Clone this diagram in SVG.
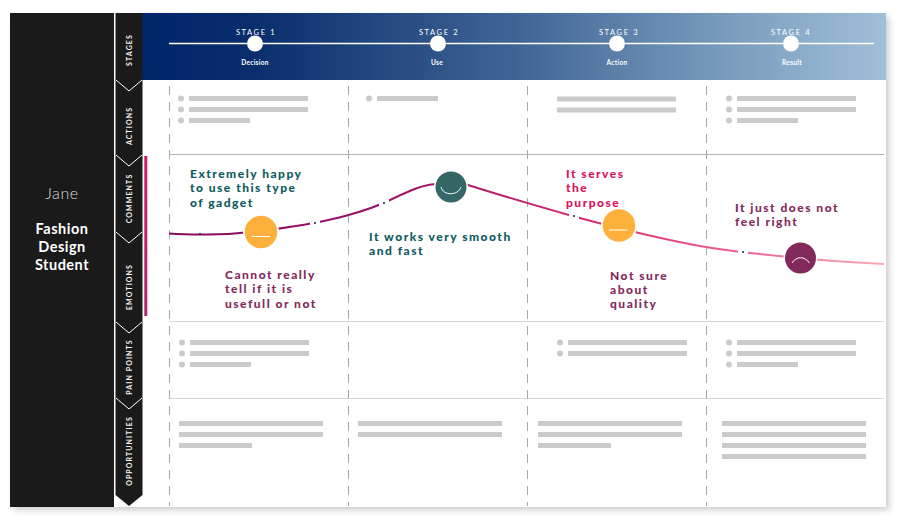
<svg xmlns="http://www.w3.org/2000/svg" width="900" height="520" viewBox="0 0 900 520">
<style>
.g{fill:#cbcbcb}
.hl{stroke-width:1;fill:none}
.lab{font-family:Lato,"Open Sans",sans-serif;font-weight:700;font-size:7px;letter-spacing:1.1px;fill:#f2f2f2;text-anchor:middle}
.st{font-family:Lato,sans-serif;font-weight:400;font-size:7.500px;letter-spacing:1.600px;fill:#fff;text-anchor:middle}
.sub{font-family:Lato,sans-serif;font-weight:700;font-size:6.500px;fill:#fff;text-anchor:middle;letter-spacing:.3px}
.c{font-family:Lato,sans-serif;font-weight:900;font-size:12px;letter-spacing:1.500px}
.teal{fill:#0e5a5e}.plum{fill:#852a5c}.pink{fill:#dc1259}
.face{fill:none;stroke:#fff;stroke-width:1}
</style>
<defs>
<linearGradient id="hd" x1="0" x2="1" y1="0" y2="0"><stop offset="0" stop-color="#00256a"/><stop offset=".15" stop-color="#0a2d6c"/><stop offset=".5" stop-color="#3f6494"/><stop offset=".8" stop-color="#7c9fbf"/><stop offset="1" stop-color="#a0bfd8"/></linearGradient>
<linearGradient id="cv" gradientUnits="userSpaceOnUse" x1="169" x2="884" y1="0" y2="0"><stop offset="0" stop-color="#850a5c"/><stop offset=".35" stop-color="#a5146a"/><stop offset=".6" stop-color="#d63070"/><stop offset=".8" stop-color="#f0648f"/><stop offset="1" stop-color="#f5a9b5"/></linearGradient>
<linearGradient id="bar" x1="0" x2="0" y1="0" y2="1"><stop offset="0" stop-color="#d01a68"/><stop offset="1" stop-color="#b0246e"/></linearGradient>
<filter id="sh" x="-5%" y="-5%" width="110%" height="110%"><feGaussianBlur stdDeviation="3"/></filter>
</defs>
<rect width="900" height="520" fill="#fff"/>
<rect x="14" y="17" width="875" height="493" fill="#000" opacity=".2" filter="url(#sh)"/>
<rect x="10" y="13" width="876" height="494" fill="#fff"/>
<rect x="10" y="13" width="104" height="494" fill="#1a1a1a"/>
<rect x="142" y="13" width="744" height="67" fill="url(#hd)"/>

<g id="ribbon">
<path d="M115.500 13H142.500V495L129 506L115.500 495Z" fill="#1a1a1a"/>
<g fill="none" stroke="#fff" stroke-width="1">
<path d="M116 80L129 91L142 80"/>
<path d="M116 155L129 166L142 155"/>
<path d="M116 232L129 243L142 232"/>
<path d="M116 322L129 333L142 322"/>
<path d="M116 398L129 409L142 398"/>
</g>
<text class="lab" transform="translate(131.500,50) rotate(-90)">STAGES</text>
<text class="lab" transform="translate(131.500,126) rotate(-90)">ACTIONS</text>
<text class="lab" transform="translate(131.500,198.500) rotate(-90)">COMMENTS</text>
<text class="lab" transform="translate(131.500,287) rotate(-90)">EMOTIONS</text>
<text class="lab" transform="translate(131.500,367) rotate(-90)">PAIN POINTS</text>
<text class="lab" transform="translate(131.500,451) rotate(-90)">OPPORTUNITIES</text>
</g>
<rect x="144.300" y="156" width="3" height="160" fill="url(#bar)"/>

<g id="persona" text-anchor="middle" fill="#fff" font-family="Lato,sans-serif">
<text x="62" y="199" font-size="16" font-weight="300" letter-spacing=".6" fill="#dcdcdc">Jane</text>
<text x="62" y="234" font-size="14.500" font-weight="700" letter-spacing=".5">Fashion</text>
<text x="62" y="252" font-size="14.500" font-weight="700" letter-spacing=".5">Design</text>
<text x="62" y="270" font-size="14.500" font-weight="700" letter-spacing=".5">Student</text>
</g>

<g id="grid">
<path class="hl" stroke="#b4b4b4" d="M169 154.500H884"/>
<path class="hl" stroke="#d6d6d6" d="M169 321.500H884M169 398.500H884"/>
<path d="M169.500 86V506M348.500 86V506M527.500 86V506M706.500 86V506" fill="none" stroke="#a8a8a8" stroke-width="1" stroke-dasharray="9 7"/>
</g>

<g id="stages">
<path d="M169 43.500H874" stroke="#fff" stroke-width="1.500"/>
<g fill="#fff"><circle cx="255" cy="43.500" r="8"/><circle cx="438" cy="43.500" r="8"/><circle cx="617" cy="43.500" r="8"/><circle cx="791" cy="43.500" r="8"/></g>
<text class="st" x="256" y="34.500">STAGE 1</text><text class="sub" x="255" y="65">Decision</text>
<text class="st" x="439" y="35">STAGE 2</text><text class="sub" x="437" y="65">Use</text>
<text class="st" x="619" y="34.500">STAGE 3</text><text class="sub" x="617" y="65">Action</text>
<text class="st" x="791" y="34.500">STAGE 4</text><text class="sub" x="792" y="64.500">Result</text>
</g>

<g id="actions" class="g">
<circle cx="181" cy="98.500" r="3"/><circle cx="181" cy="109.500" r="3"/><circle cx="181" cy="120.500" r="3"/>
<rect x="189" y="96" width="119" height="5"/><rect x="189" y="107" width="119" height="5"/><rect x="189" y="118" width="61" height="5"/>
<circle cx="369" cy="98.500" r="3"/><rect x="377" y="96" width="61" height="5"/>
<rect x="557" y="96.500" width="119" height="5"/><rect x="557" y="107.500" width="119" height="5"/>
<circle cx="729" cy="98.500" r="3"/><circle cx="729" cy="109.500" r="3"/><circle cx="729" cy="120.500" r="3"/>
<rect x="737" y="96" width="119" height="5"/><rect x="737" y="107" width="119" height="5"/><rect x="737" y="118" width="61" height="5"/>
</g>

<g id="painpoints" class="g">
<circle cx="182" cy="342.500" r="3"/><circle cx="182" cy="353.500" r="3"/><circle cx="182" cy="364.500" r="3"/>
<rect x="190" y="340" width="119" height="5"/><rect x="190" y="351" width="119" height="5"/><rect x="190" y="362" width="61" height="5"/>
<circle cx="560" cy="342.500" r="3"/><circle cx="560" cy="353.500" r="3"/>
<rect x="568" y="340" width="119" height="5"/><rect x="568" y="351" width="119" height="5"/>
<circle cx="729" cy="342.500" r="3"/><circle cx="729" cy="353.500" r="3"/><circle cx="729" cy="364.500" r="3"/>
<rect x="737" y="340" width="119" height="5"/><rect x="737" y="351" width="119" height="5"/><rect x="737" y="362" width="61" height="5"/>
</g>

<g id="opportunities" class="g">
<rect x="179" y="421" width="144" height="5"/><rect x="179" y="432" width="144" height="5"/><rect x="179" y="443" width="73" height="5"/>
<rect x="358" y="421" width="144" height="5"/><rect x="358" y="432" width="144" height="5"/>
<rect x="538" y="421" width="144" height="5"/><rect x="538" y="432" width="144" height="5"/><rect x="538" y="443" width="73" height="5"/>
<rect x="722" y="421" width="144" height="5"/><rect x="722" y="432" width="144" height="5"/><rect x="722" y="443" width="144" height="5"/><rect x="722" y="454" width="144" height="5"/>
</g>

<g id="connectors">
<path d="M169 233.500C190 235 225 235 245 232.500C280 229 315 224 345 216C360 212 375 207.500 390 200C405 193 420 185 436 184C448 183.300 458 182 468 185C490 192 530 204 574 216.500C610 226 650 237 700 246C720 249.600 735 251.500 760 254C800 258.500 840 262 884 264" fill="none" stroke="url(#cv)" stroke-width="2"/>
<g fill="#fff">
<rect x="310" y="218" width="10" height="10"/>
<rect x="379" y="198" width="10" height="10"/>
<rect x="569" y="210" width="10" height="11"/>
<rect x="738" y="247" width="10" height="10"/>
</g>
<g fill="#222">
<circle cx="200" cy="234" r="1"/><circle cx="315" cy="223" r="1"/><circle cx="384" cy="203" r="1"/><circle cx="574" cy="216" r="1"/><circle cx="743" cy="252" r="1"/>
</g>
</g>

<g id="e1"><circle cx="261" cy="232" r="18" fill="#fff"/><circle cx="261" cy="232" r="16.300" fill="#fdb03b"/><path class="face" d="M251.500 236.500H270"/></g>
<g id="e2"><circle cx="451" cy="187" r="17" fill="#fff"/><circle cx="451" cy="187" r="15.500" fill="#356767"/><path class="face" d="M441 187C443 196 458 196 461 187"/></g>
<g id="e3"><circle cx="619" cy="225.500" r="18" fill="#fff"/><circle cx="619" cy="225.500" r="16.300" fill="#fdb03b"/><path class="face" d="M609 230H627.500"/></g>
<g id="e4"><circle cx="800.500" cy="258" r="17" fill="#fff"/><circle cx="800.500" cy="258" r="15.500" fill="#832a5c"/><path class="face" d="M792 263C796 256 805 256 809.500 263"/></g>

<g id="comments" class="c">
<text class="teal" x="190" y="178">Extremely happy</text>
<text class="teal" x="190" y="192">to use this type</text>
<text class="teal" x="190" y="207">of gadget</text>
<text class="plum" x="225" y="279">Cannot really</text>
<text class="plum" x="225" y="293">tell if it is</text>
<text class="plum" x="225" y="308">usefull or not</text>
<text class="teal" x="369" y="241">It works very smooth</text>
<text class="teal" x="369" y="255">and fast</text>
<text class="pink" x="566" y="178">It serves</text>
<text class="pink" x="566" y="192">the</text>
<text class="pink" x="566" y="207">purpose</text>
<text class="plum" x="610" y="280">Not sure</text>
<text class="plum" x="610" y="294">about</text>
<text class="plum" x="610" y="308">quality</text>
<text class="plum" x="735" y="212">It just does not</text>
<text class="plum" x="735" y="226">feel right</text>
</g>
</svg>
